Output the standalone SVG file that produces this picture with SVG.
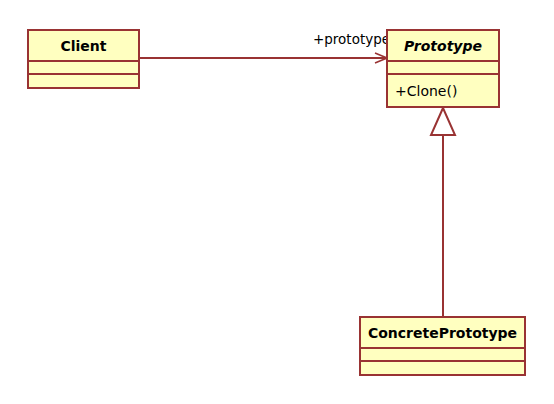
<svg xmlns="http://www.w3.org/2000/svg" width="554" height="404" viewBox="0 0 554 404">
<defs>
<style>
.box{fill:#FFFFC0;stroke:#993333;stroke-width:2}
.ln{stroke:#993333;stroke-width:2;fill:none}
.t{font-family:"DejaVu Sans",Verdana,sans-serif;font-size:14px;fill:#000}
.b{font-weight:bold}
</style>
<marker id="open" markerWidth="14" markerHeight="12" refX="13" refY="6" orient="auto" markerUnits="userSpaceOnUse">
<path d="M1,1 L13,6 L1,11" fill="none" stroke="#993333" stroke-width="1.5"/>
</marker>
</defs>
<rect width="554" height="404" fill="#fff"/>
<g id="connectors">
<line class="ln" x1="139" y1="58" x2="387" y2="58" marker-end="url(#open)"/>
<text class="t" x="313" y="44" textLength="77" lengthAdjust="spacingAndGlyphs">+prototype</text>
<line class="ln" x1="443" y1="317" x2="443" y2="135"/>
<polygon points="443,108 431,135 455,135" fill="#fff" stroke="#993333" stroke-width="2"/>
</g>
<g id="Client">
<rect class="box" x="28" y="30" width="111" height="58"/>
<line class="ln" x1="28" y1="61" x2="139" y2="61"/>
<line class="ln" x1="28" y1="74" x2="139" y2="74"/>
<text class="t b" x="83.5" y="51" text-anchor="middle">Client</text>
</g>
<g id="Prototype">
<rect class="box" x="387" y="30" width="112" height="77"/>
<line class="ln" x1="387" y1="61" x2="499" y2="61"/>
<line class="ln" x1="387" y1="74" x2="499" y2="74"/>
<text class="t b" x="443" y="51" text-anchor="middle" font-style="italic">Prototype</text>
<text class="t" x="395" y="96">+Clone()</text>
</g>
<g id="ConcretePrototype">
<rect class="box" x="360" y="317" width="165" height="58"/>
<line class="ln" x1="360" y1="348" x2="525" y2="348"/>
<line class="ln" x1="360" y1="361" x2="525" y2="361"/>
<text class="t b" x="442.5" y="338" text-anchor="middle">ConcretePrototype</text>
</g>
</svg>
